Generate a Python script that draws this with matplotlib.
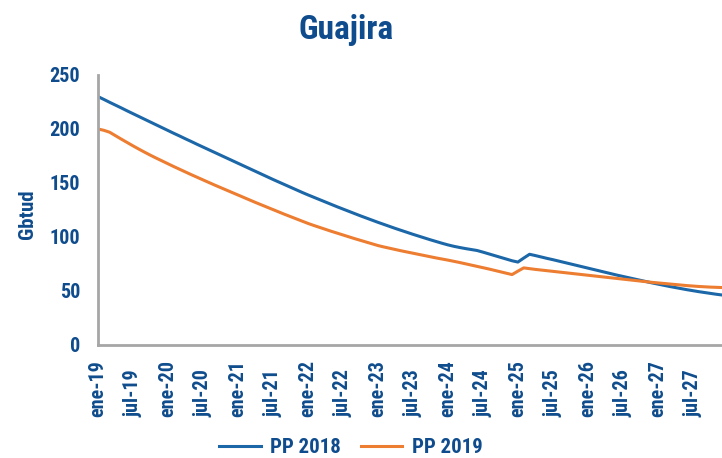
import matplotlib
matplotlib.use("Agg")
import matplotlib.pyplot as plt

# Meses desde ene-19 hasta dic-27
meses = list(range(108))

pp_2018 = [
    230.0, 227.4, 224.7, 222.1, 219.5, 216.8, 214.2, 211.6, 209.0, 206.4, 203.8, 201.2,
    198.6, 196.0, 193.5, 190.9, 188.4, 185.8, 183.3, 180.8, 178.3, 175.8, 173.3, 170.8,
    168.3, 165.8, 163.3, 160.8, 158.3, 155.8, 153.3, 150.9, 148.5, 146.1, 143.7, 141.3,
    139.0, 136.8, 134.6, 132.4, 130.2, 128.0, 125.9, 123.8, 121.7, 119.6, 117.6, 115.6,
    113.6, 111.7, 109.8, 107.9, 106.1, 104.3, 102.5, 100.8, 99.1, 97.4, 95.8, 94.2,
    92.7, 91.4, 90.3, 89.3, 88.4, 87.5, 86.0, 84.4, 82.8, 81.2, 79.6, 78.0,
    76.8, 80.5, 84.0, 82.8, 81.5, 80.2, 79.0, 77.7, 76.4, 75.1, 73.8, 72.5,
    71.2, 69.9, 68.6, 67.3, 66.0, 64.7, 63.5, 62.3, 61.1, 59.9, 58.7, 57.5,
    56.4, 55.3, 54.2, 53.2, 52.2, 51.2, 50.3, 49.4, 48.6, 47.8, 47.0, 46.3,
]

pp_2019 = [
    200.0, 198.8, 197.0, 193.8, 190.6, 187.5, 184.4, 181.4, 178.5, 175.7, 173.0, 170.4,
    167.8, 165.2, 162.7, 160.2, 157.7, 155.3, 152.9, 150.5, 148.1, 145.8, 143.5, 141.2,
    138.9, 136.6, 134.3, 132.0, 129.8, 127.6, 125.4, 123.2, 121.0, 118.9, 116.8, 114.7,
    112.6, 110.7, 108.9, 107.1, 105.3, 103.6, 101.9, 100.2, 98.5, 96.9, 95.3, 93.7,
    92.1, 90.8, 89.6, 88.4, 87.2, 86.1, 85.0, 83.9, 82.8, 81.7, 80.6, 79.6,
    78.6, 77.5, 76.4, 75.2, 74.0, 72.8, 71.6, 70.4, 69.1, 67.8, 66.5, 65.2,
    68.4, 71.4, 70.7, 70.0, 69.4, 68.8, 68.2, 67.6, 67.0, 66.4, 65.8, 65.2,
    64.6, 64.0, 63.4, 62.8, 62.2, 61.6, 61.0, 60.4, 59.8, 59.2, 58.6, 58.0,
    57.5, 57.0, 56.5, 56.0, 55.5, 55.0, 54.6, 54.2, 53.9, 53.6, 53.4, 53.2,
]

etiquetas_x = ["ene-19", "jul-19", "ene-20", "jul-20", "ene-21", "jul-21", "ene-22",
               "jul-22", "ene-23", "jul-23", "ene-24", "jul-24", "ene-25", "jul-25",
               "ene-26", "jul-26", "ene-27", "jul-27"]
ticks_y = [0, 50, 100, 150, 200, 250]

azul_texto = "#0f4c8d"
azul = "#1c67a8"
naranja = "#ed7d31"
gris = "#a6a6a6"
fuente = ["Roboto Condensed", "DejaVu Sans"]

fig = plt.figure(figsize=(7.22, 4.58), dpi=100)
ax = fig.add_axes([98 / 722, 1 - 345 / 458, 1 - 98 / 722, (345 - 75) / 458])

ax.plot(meses, pp_2018, color=azul, lw=2.2, label="PP 2018")
ax.plot(meses, pp_2019, color=naranja, lw=2.2, label="PP 2019")

ax.set_xlim(0, 107)
ax.set_ylim(0, 250)

# Ejes
for lado in ["top", "right"]:
    ax.spines[lado].set_visible(False)
for lado in ["left", "bottom"]:
    ax.spines[lado].set_color(gris)
    ax.spines[lado].set_linewidth(2)

ax.set_yticks(ticks_y)
ax.set_yticklabels([str(v) for v in ticks_y], family=fuente, fontsize=14.5,
                   fontweight="bold", color=azul_texto)
ax.set_xticks(range(0, 108, 6))
ax.set_xticklabels(etiquetas_x, family=fuente, fontsize=14.5, fontweight="bold",
                   color=azul_texto, rotation=90, va="bottom")
ax.tick_params(axis="y", which="major", length=0, pad=13)
ax.tick_params(axis="x", which="major", length=0, pad=52)

# Marca pequeña en el origen
ax.set_xticks([0], minor=True)
ax.set_yticks([0], minor=True)
ax.tick_params(which="minor", length=4, width=2, color=gris)

ax.set_ylabel("Gbtud", family=fuente, fontsize=15, fontweight="bold",
              color=azul_texto)
ax.yaxis.set_label_coords(-0.098, 0.485)

fig.text(0.479, 0.934, "Guajira", family=fuente, fontsize=24, fontweight="bold",
         color=azul_texto, ha="center", va="center")

leg = fig.legend(loc="center", bbox_to_anchor=(0.486, 0.022), ncol=2, frameon=False,
                 handlelength=2.0, handletextpad=0.45, columnspacing=0.95,
                 borderpad=0.2, prop={"family": fuente, "size": 15, "weight": "bold"})
for t in leg.get_texts():
    t.set_color(azul_texto)

fig.savefig("out.png", dpi=100)
